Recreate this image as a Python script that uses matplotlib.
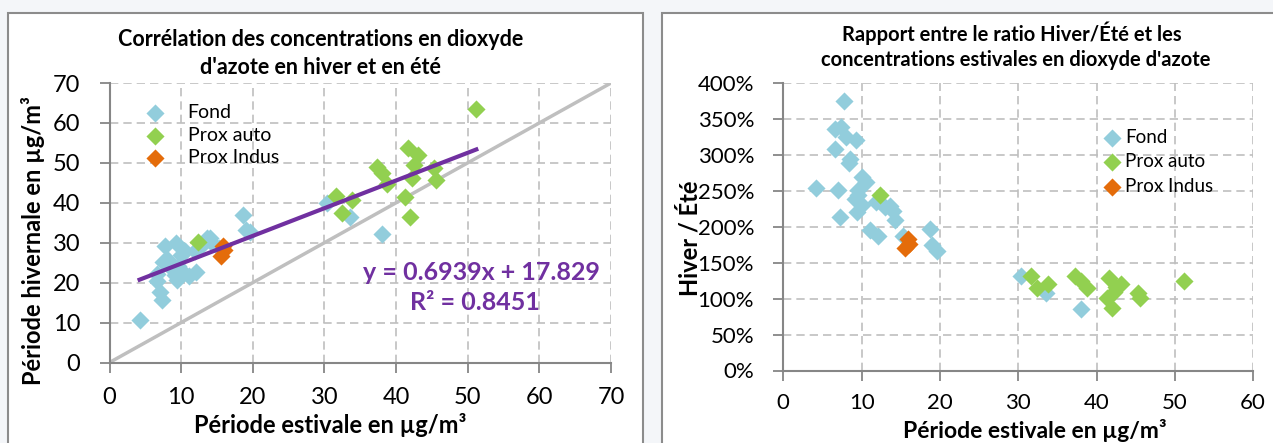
import matplotlib
matplotlib.use('Agg')
import matplotlib.pyplot as plt
import matplotlib.patches as mpatches
import numpy as np

plt.rcParams['font.family'] = ['Lato', 'DejaVu Sans']

# Excel-like palette
BLUE = '#92CDDC'
GREEN = '#92D050'
ORANGE = '#E46C0A'
PURPLE = '#7030A0'
LINE_GRAY = '#BFBFBF'
GRID = '#BFBFBF'
AXIS = '#868686'
FRAME = '#8C8C8C'
BG = '#F4F6F9'

W, H = 1273, 443

# Data: summer (estival) and winter (hivernal) NO2 concentrations, µg/m3
fond_ete = [7.75, 6.6, 7.4, 8.0, 9.3, 6.6, 8.5, 8.35, 4.2, 7.0, 10.0, 10.6, 9.6, 9.6,
            9.2, 10.0, 9.4, 7.3, 11.1, 12.1, 11.9, 13.0, 14.0, 14.3, 15.3, 13.6,
            18.7, 19.0, 19.6, 30.3, 33.6, 38.0]
fond_hiver = [29.1, 22.2, 25.1, 26.0, 29.9, 20.4, 25.0, 24.1, 10.7, 17.6, 27.0, 27.8, 24.1, 23.4,
              22.0, 23.1, 20.7, 15.6, 21.7, 22.7, 28.0, 29.6, 31.1, 29.9, 28.6, 31.2,
              36.9, 33.1, 32.7, 39.9, 36.5, 32.3]

auto_ete = [12.4, 31.6, 32.4, 33.8, 37.3, 38.0, 38.8, 41.3, 41.6, 42.0, 42.2, 42.5,
            43.1, 45.3, 45.6, 51.2]
auto_hiver = [30.3, 41.8, 37.4, 40.8, 49.0, 47.5, 44.8, 41.5, 53.6, 36.5, 46.2, 49.5,
              52.0, 48.6, 45.8, 63.5]

indus_ete = [15.9, 15.6, 16.0]
indus_hiver = [29.2, 26.6, 28.2]

# trend line shown on the chart
slope, intercept = 0.6939, 17.829


def fx(x):
    return x / W


def fy(y):
    return 1 - y / H


fig = plt.figure(figsize=(W / 100, H / 100), dpi=100, facecolor=BG)

# chart frames (behind the axes)
fig.patches.append(mpatches.Rectangle((fx(8), fy(H + 10)), fx(635), (H + 10 - 13) / H,
                                      transform=fig.transFigure, facecolor='white',
                                      edgecolor=FRAME, linewidth=1.5, zorder=-5))
fig.patches.append(mpatches.Rectangle((fx(662), fy(H + 10)), fx(640), (H + 10 - 13) / H,
                                      transform=fig.transFigure, facecolor='white',
                                      edgecolor=FRAME, linewidth=1.5, zorder=-5))


def style_axes(ax, xpad, ypad, size):
    ax.set_facecolor('none')
    for side in ['top', 'right']:
        ax.spines[side].set_visible(False)
    for side in ['left', 'bottom']:
        ax.spines[side].set_color(AXIS)
        ax.spines[side].set_linewidth(1.5)
    ax.tick_params(axis='both', direction='out', length=7, width=1.3, color=AXIS,
                   labelsize=size)
    ax.tick_params(axis='x', pad=xpad)
    ax.tick_params(axis='y', pad=ypad)
    ax.grid(True, color=GRID, linestyle=(0, (5, 3)), linewidth=1.2)
    ax.set_axisbelow(True)


ALL_ETE = fond_ete + auto_ete + indus_ete
MS = 85

# ---- Left chart: winter vs summer
ax1 = fig.add_axes([fx(109.5), fy(362.5), fx(501.5), 279.5 / H])
style_axes(ax1, 11, 14, 17)
ax1.plot([0, 70], [0, 70], color=LINE_GRAY, linewidth=2.5, zorder=2)
ax1.scatter(fond_ete, fond_hiver, marker='D', s=MS, color=BLUE, linewidths=0, zorder=3, label='Fond')
ax1.scatter(auto_ete, auto_hiver, marker='D', s=MS, color=GREEN, linewidths=0, zorder=3, label='Prox auto')
ax1.scatter(indus_ete, indus_hiver, marker='D', s=MS, color=ORANGE, linewidths=0, zorder=3, label='Prox Indus')
xt = np.array([min(ALL_ETE), max(ALL_ETE)])
ax1.plot(xt, slope * xt + intercept, color=PURPLE, linewidth=3, zorder=4)
ax1.set_xlim(0, 70)
ax1.set_ylim(0, 70)
ax1.set_xticks(range(0, 71, 10))
ax1.set_yticks(range(0, 71, 10))
ax1.legend(loc='upper left', bbox_to_anchor=((137 - 109.5) / 501.5, 1 - 13 / 279.5),
           bbox_transform=ax1.transAxes, frameon=False, fontsize=14, handletextpad=1.2,
           labelspacing=0.3, borderaxespad=0, handlelength=1.0)

fig.text(fx(321), fy(40), 'Corrélation des concentrations en dioxyde', ha='center', va='center',
         fontsize=15.5, fontweight='bold')
fig.text(fx(320), fy(68), "d'azote en hiver et en été", ha='center', va='center',
         fontsize=15.5, fontweight='bold')
fig.text(fx(33), fy(241), 'Période hivernale en µg/m³', rotation=90, ha='center', va='center',
         fontsize=17, fontweight='bold')
fig.text(fx(330), fy(425), 'Période estivale en µg/m³', ha='center', va='center',
         fontsize=17, fontweight='bold')
fig.text(fx(481), fy(273), 'y = 0.6939x + 17.829', ha='center', va='center',
         fontsize=18, fontweight='bold', color=PURPLE)
fig.text(fx(475), fy(303), 'R² = 0.8451', ha='center', va='center',
         fontsize=18, fontweight='bold', color=PURPLE)

# ---- Right chart: winter/summer ratio vs summer
ax2 = fig.add_axes([fx(783.3), fy(370.5), fx(469.8), 287.2 / H])
style_axes(ax2, 9, 14, 16)
for ete, hiver, col, lab in [(fond_ete, fond_hiver, BLUE, 'Fond'),
                             (auto_ete, auto_hiver, GREEN, 'Prox auto'),
                             (indus_ete, indus_hiver, ORANGE, 'Prox Indus')]:
    ratio = np.array(hiver) / np.array(ete) * 100
    ax2.scatter(ete, ratio, marker='D', s=MS, color=col, linewidths=0, zorder=3, label=lab)
ax2.set_xlim(0, 60)
ax2.set_ylim(0, 400)
ax2.set_xticks(range(0, 61, 10))
ax2.set_yticks(range(0, 401, 50))
ax2.set_yticklabels([f'{v}%' for v in range(0, 401, 50)])
ax2.legend(loc='upper left', bbox_to_anchor=((1095 - 783.3) / 469.8, 1 - 38 / 287.2),
           bbox_transform=ax2.transAxes, frameon=False, fontsize=13.5, handletextpad=0.2,
           labelspacing=0.4, borderaxespad=0, handlelength=1.0)

fig.text(fx(1012), fy(33), 'Rapport entre le ratio Hiver/Été et les', ha='center', va='center',
         fontsize=14.5, fontweight='bold')
fig.text(fx(1016), fy(60), "concentrations estivales en dioxyde d'azote", ha='center', va='center',
         fontsize=14.5, fontweight='bold')
fig.text(fx(690), fy(238), 'Hiver / Été', rotation=90, ha='center', va='center',
         fontsize=17, fontweight='bold')
fig.text(fx(1035), fy(431), 'Période estivale en µg/m³', ha='center', va='center',
         fontsize=16.5, fontweight='bold')

fig.savefig('out.png', dpi=100, facecolor=BG)
